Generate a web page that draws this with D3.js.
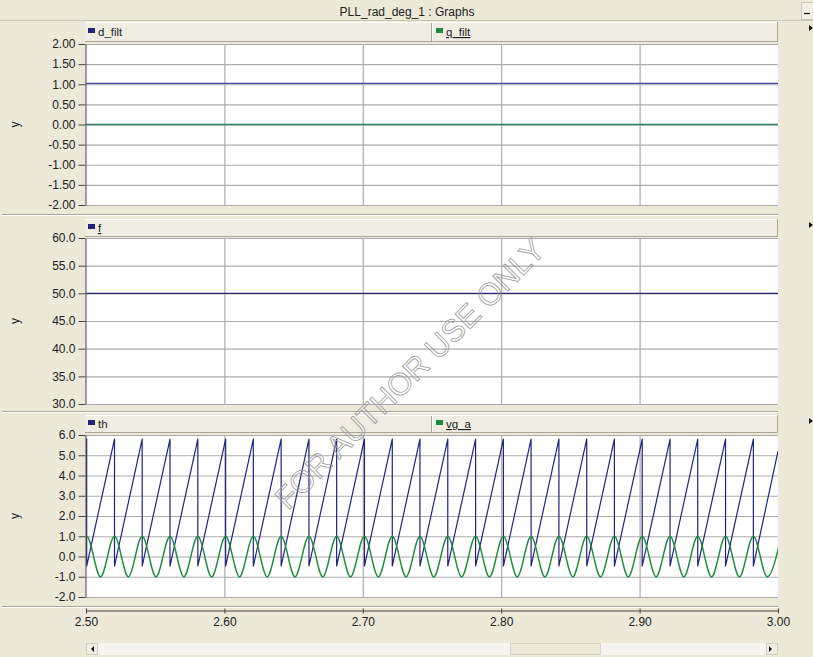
<!DOCTYPE html>
<html><head><meta charset="utf-8">
<script src="https://cdn.jsdelivr.net/npm/d3@7"></script>
<style>
html,body{margin:0;padding:0;background:#ECE9D8;overflow:hidden}
text{font-family:"Liberation Sans",Arial,sans-serif;}
</style>
</head><body>
<script>
// ---- time axis ----
const timeSpan = [2.5, 3.0];
const timeTicks = [2.5, 2.6, 2.7, 2.8, 2.9, 3.0];

// ---- panel 1: d/q filtered components ----
const dqTicks = [-2, -1.5, -1, -0.5, 0, 0.5, 1, 1.5, 2];
const dqTimes = [2.5, 3.0];
const dFiltValues = [1.02, 1.02];
const qFiltValues = [0.0, 0.0];

// ---- panel 2: estimated frequency ----
const freqTicks = [30, 35, 40, 45, 50, 55, 60];
const fTimes = [2.5, 3.0];
const fValues = [50.0, 50.0];

// ---- panel 3: phase angle and grid voltage ----
const phaseTicks = [-2, -1, 0, 1, 2, 3, 4, 5, 6];
// instants where th wraps from its top value back to the bottom
const thWrapTimes = [2.5005, 2.5206, 2.5406, 2.5607, 2.5808, 2.6009, 2.6209, 2.6410,
  2.6611, 2.6811, 2.7012, 2.7213, 2.7413, 2.7614, 2.7815, 2.8016, 2.8216, 2.8417,
  2.8618, 2.8818, 2.9019, 2.9220, 2.9420, 2.9621, 2.9822];
const thTop = 5.80, thBottom = -0.47;
const thStartValue = 5.74, thEndValue = 5.20;
// vg_a crests and troughs
const vgaPeakTimes = [2.5005, 2.5206, 2.5406, 2.5607, 2.5808, 2.6009, 2.6209, 2.6410,
  2.6611, 2.6811, 2.7012, 2.7213, 2.7413, 2.7614, 2.7815, 2.8016, 2.8216, 2.8417,
  2.8618, 2.8818, 2.9019, 2.9220, 2.9420, 2.9621, 2.9822, 3.0023];
const vgaTroughTimes = [2.4905, 2.5105, 2.5306, 2.5506, 2.5707, 2.5908, 2.6109, 2.6309,
  2.6510, 2.6711, 2.6911, 2.7112, 2.7313, 2.7513, 2.7714, 2.7915, 2.8116, 2.8316,
  2.8517, 2.8718, 2.8918, 2.9119, 2.9320, 2.9520, 2.9721, 2.9922];
const vgaPeak = 1.0, vgaTrough = -1.0;

// ---- style ----
const BG = "#ECE9D8", BLUE = "#23237e", GREEN = "#1c8c3c", GRID = "#ababab", INK = "#222";
const W = 813, H = 657;
const plotL = 86, plotR = 778;

const svg = d3.select("body").append("svg").attr("width", W).attr("height", H);
svg.append("rect").attr("width", W).attr("height", H).attr("fill", BG);

// title bar
svg.append("line").attr("x1", 0).attr("x2", W).attr("y1", 20.5).attr("y2", 20.5).attr("stroke", "#c9c6b6");
svg.append("text").attr("x", 407).attr("y", 16).attr("text-anchor", "middle")
  .attr("font-size", 12).attr("fill", INK).text("PLL_rad_deg_1 : Graphs");
svg.append("rect").attr("x", 801.5).attr("y", 2.5).attr("width", 12).attr("height", 17)
  .attr("fill", "#f3f1e6").attr("stroke", "#c9c6b6");
svg.append("line").attr("x1", 804).attr("x2", 810).attr("y1", 13.5).attr("y2", 13.5).attr("stroke", "#111").attr("stroke-width", 1.2);

const x = d3.scaleLinear().domain(timeSpan).range([plotL, plotR]);
const fmt2 = v => v.toFixed(2), fmt1 = v => v.toFixed(1);

// th sawtooth vertices
const thPoints = [[timeSpan[0], thStartValue]];
thWrapTimes.forEach(t => { thPoints.push([t, thTop]); thPoints.push([t, thBottom]); });
thPoints.push([timeSpan[1], thEndValue]);
// vg_a extrema merged in time order
const vgaPoints = vgaPeakTimes.map(t => [t, vgaPeak])
  .concat(vgaTroughTimes.map(t => [t, vgaTrough]))
  .sort((a, b) => a[0] - b[0]);

const panels = [
  { legendTop: 22, legendH: 20, top: 44, bottom: 205, domain: [-2, 2], ticks: dqTicks, fmt: fmt2, sepY: 214,
    legend: [{ name: "d_filt", color: BLUE, x: 88, u: false }, { name: "q_filt", color: GREEN, x: 436, u: true }],
    series: [
      { pts: dqTimes.map((t, i) => [t, dFiltValues[i]]), color: "#4a4aa0", w: 1.3, curve: d3.curveLinear },
      { pts: dqTimes.map((t, i) => [t, qFiltValues[i]]), color: "#2f7d5c", w: 1.6, curve: d3.curveLinear }
    ] },
  { legendTop: 219, legendH: 18, top: 238, bottom: 404, domain: [30, 60], ticks: freqTicks, fmt: fmt1, sepY: 411,
    legend: [{ name: "f", color: BLUE, x: 88, u: true }],
    series: [{ pts: fTimes.map((t, i) => [t, fValues[i]]), color: "#2a2a70", w: 1.4, curve: d3.curveLinear }] },
  { legendTop: 415, legendH: 18, top: 435, bottom: 597, domain: [-2, 6], ticks: phaseTicks, fmt: fmt1, sepY: 606,
    legend: [{ name: "th", color: BLUE, x: 88, u: false }, { name: "vg_a", color: GREEN, x: 436, u: true }],
    series: [
      { pts: thPoints, color: BLUE, w: 1.2, curve: d3.curveLinear },
      { pts: vgaPoints, color: GREEN, w: 1.4, curve: d3.curveMonotoneX }
    ] }
];

panels.forEach((p, pi) => {
  const g = svg.append("g");
  const y = d3.scaleLinear().domain(p.domain).range([p.bottom, p.top]);

  // legend bar
  g.append("rect").attr("x", plotL - 1).attr("y", p.legendTop).attr("width", plotR - plotL + 1).attr("height", p.legendH)
    .attr("fill", "#efede1");
  g.append("line").attr("x1", plotL - 1).attr("x2", plotR).attr("y1", p.legendTop + 0.5).attr("y2", p.legendTop + 0.5).attr("stroke", "#fff");
  g.append("line").attr("x1", plotL - 1).attr("x2", plotR).attr("y1", p.legendTop + p.legendH - 0.5).attr("y2", p.legendTop + p.legendH - 0.5).attr("stroke", "#aca899");
  g.append("line").attr("x1", plotR - 0.5).attr("x2", plotR - 0.5).attr("y1", p.legendTop).attr("y2", p.legendTop + p.legendH).attr("stroke", "#aca899");
  if (p.legend.length > 1) {
    g.append("line").attr("x1", 431.5).attr("x2", 431.5).attr("y1", p.legendTop + 1).attr("y2", p.legendTop + p.legendH - 1).attr("stroke", "#aca899");
    g.append("line").attr("x1", 432.5).attr("x2", 432.5).attr("y1", p.legendTop + 1).attr("y2", p.legendTop + p.legendH - 1).attr("stroke", "#fff");
  }
  const ly = p.legendTop + p.legendH / 2;
  p.legend.forEach(l => {
    g.append("rect").attr("x", l.x).attr("y", ly - 4).attr("width", 7).attr("height", 5).attr("fill", l.color);
    const t = g.append("text").attr("x", l.x + 10).attr("y", ly + 4).attr("font-size", 11.5).attr("fill", INK).text(l.name);
    if (l.u) t.attr("text-decoration", "underline");
  });

  // plot area
  g.append("rect").attr("x", plotL).attr("y", p.top).attr("width", plotR - plotL).attr("height", p.bottom - p.top).attr("fill", "#fff");

  // grids
  g.append("g").attr("transform", `translate(${plotL},0)`)
    .call(d3.axisLeft(y).tickValues(p.ticks).tickSize(-(plotR - plotL)).tickFormat(""))
    .call(s => s.select(".domain").remove())
    .call(s => s.selectAll("line").attr("stroke", GRID).attr("stroke-width", 1.2));
  g.append("g").attr("transform", `translate(0,${p.bottom})`)
    .call(d3.axisBottom(x).tickValues(timeTicks.slice(1, -1)).tickSize(-(p.bottom - p.top)).tickFormat(""))
    .call(s => s.select(".domain").remove())
    .call(s => s.selectAll("line").attr("stroke", GRID).attr("stroke-width", 1.2));

  // data
  const clipId = "clip" + pi;
  g.append("clipPath").attr("id", clipId).append("rect")
    .attr("x", plotL).attr("y", p.top - 1).attr("width", plotR - plotL).attr("height", p.bottom - p.top + 2);
  const dg = g.append("g").attr("clip-path", `url(#${clipId})`);
  p.series.forEach(s => {
    const line = d3.line().x(d => x(d[0])).y(d => y(d[1])).curve(s.curve);
    dg.append("path").attr("d", line(s.pts)).attr("fill", "none")
      .attr("stroke", s.color).attr("stroke-width", s.w).attr("stroke-linejoin", "round");
  });

  // left axis
  g.append("g").attr("transform", `translate(${plotL - 0.5},0)`)
    .call(d3.axisLeft(y).tickValues(p.ticks).tickFormat(p.fmt).tickSize(7).tickSizeOuter(0).tickPadding(3))
    .call(s => s.select(".domain").attr("stroke", "#444"))
    .call(s => s.selectAll(".tick line").attr("stroke", "#444"))
    .call(s => s.selectAll("text").attr("font-size", 12).attr("fill", INK).attr("font-family", '"Liberation Sans",Arial,sans-serif'));

  // axis name
  g.append("text").attr("transform", `translate(19,${(p.top + p.bottom) / 2}) rotate(-90)`)
    .attr("text-anchor", "middle").attr("font-size", 12).attr("fill", INK).text("y");

  // panel separator
  g.append("line").attr("x1", 2).attr("x2", plotR).attr("y1", p.sepY + 0.5).attr("y2", p.sepY + 0.5).attr("stroke", "#aca899");
  g.append("line").attr("x1", 2).attr("x2", plotR).attr("y1", p.sepY + 1.5).attr("y2", p.sepY + 1.5).attr("stroke", "#fff");

  // small marker on the right edge
  g.append("path").attr("d", `M809,${p.legendTop + 3}L813,${p.legendTop + 6}L809,${p.legendTop + 9}Z`).attr("fill", "#111");
});

// time axis
svg.append("g").attr("transform", "translate(0,610.5)")
  .call(d3.axisBottom(x).tickValues(timeTicks).tickFormat(fmt2).tickSize(3).tickSizeOuter(0).tickPadding(4))
  .call(s => s.select(".domain").attr("stroke", "#444"))
  .call(s => s.selectAll(".tick line").attr("stroke", "#444").attr("y1", -2))
  .call(s => s.selectAll("text").attr("font-size", 12).attr("fill", INK).attr("font-family", '"Liberation Sans",Arial,sans-serif'));

// scroll bar
const sb = svg.append("g");
sb.append("rect").attr("x", 97).attr("y", 643).attr("width", 669).attr("height", 12).attr("fill", "#f5f4ee");
sb.append("rect").attr("x", 510.5).attr("y", 643.5).attr("width", 90).attr("height", 11).attr("fill", BG)
  .attr("stroke", "#d8d5c6");
[[86, "M94,646L91,649L94,652Z"], [766, "M769,646L772,649L769,652Z"]].forEach(([bx, d]) => {
  sb.append("rect").attr("x", bx + 0.5).attr("y", 643.5).attr("width", 11).attr("height", 11).attr("fill", "#f1efe4").attr("stroke", "#d0cdbd");
  sb.append("path").attr("d", d).attr("fill", "#111");
});

// watermark
svg.append("text").attr("transform", "translate(410,374) rotate(-45)")
  .attr("text-anchor", "middle").attr("dominant-baseline", "central")
  .attr("font-size", 31).attr("fill", "none").attr("stroke", "#9a9a9a").attr("stroke-width", 0.8)
  .text("FOR AUTHOR USE ONLY");
</script>
</body></html>
